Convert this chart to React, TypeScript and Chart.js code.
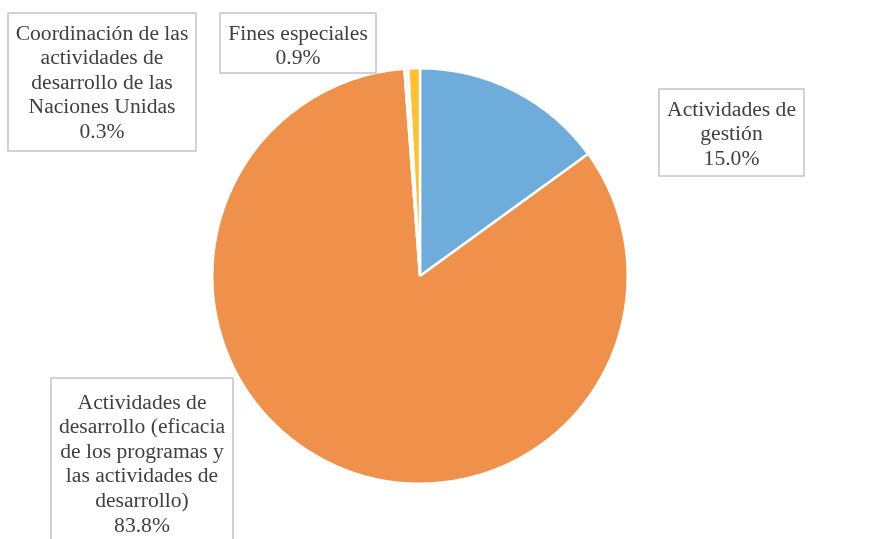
import React, { useEffect, useRef } from "react";
import { Chart, registerables } from "chart.js";

Chart.register(...registerables);

const categories = [
  "Actividades de gestión",
  "Actividades de desarrollo (eficacia de los programas y las actividades de desarrollo)",
  "Coordinación de las actividades de desarrollo de las Naciones Unidas",
  "Fines especiales",
];
const values = [15.0, 83.8, 0.3, 0.9];
const colors = ["#6EADDB", "#EF914B", "#F4F4F4", "#FDC12D"];

const labelLines = [
  ["Actividades de", "gestión", "15.0%"],
  ["Actividades de", "desarrollo (eficacia", "de los programas y", "las actividades de", "desarrollo)", "83.8%"],
  ["Coordinación de las", "actividades de", "desarrollo de las", "Naciones Unidas", "0.3%"],
  ["Fines especiales", "0.9%"],
];
// box: left, top, right, bottom, first line center y
const labelBoxes = [
  [659, 89, 804, 176, 110],
  [51, 378, 233, 560, 403],
  [8, 13, 196, 151, 34],
  [220, 13, 376, 73, 34],
];

const labelPlugin = {
  id: "boxLabels",
  afterDraw(chart: any) {
    const ctx = chart.ctx;
    ctx.save();
    ctx.font = '21.6px "Liberation Serif"';
    ctx.textAlign = "center";
    ctx.textBaseline = "middle";
    labelBoxes.forEach((b, i) => {
      const [l, t, r, btm, y0] = b;
      ctx.fillStyle = "#ffffff";
      ctx.fillRect(l, t, r - l, btm - t);
      ctx.strokeStyle = "#C4C4C4";
      ctx.lineWidth = 1.5;
      ctx.strokeRect(l, t, r - l, btm - t);
      ctx.fillStyle = "#404040";
      const cx = (l + r) / 2;
      labelLines[i].forEach((line, k) => {
        ctx.fillText(line, cx, y0 + k * 24.6);
      });
    });
    ctx.restore();
  },
};

export default function App() {
  const ref = useRef<HTMLCanvasElement>(null);
  useEffect(() => {
    document.body.style.margin = "0";
    const chart = new Chart(ref.current!, {
      type: "pie",
      data: {
        labels: categories,
        datasets: [
          {
            data: values,
            backgroundColor: colors,
            borderColor: "#ffffff",
            borderWidth: 2.5,
          },
        ],
      },
      options: {
        responsive: false,
        animation: false,
        layout: { padding: { top: 67, bottom: 54, left: 211, right: 258 } },
        plugins: { legend: { display: false }, tooltip: { enabled: false } },
      },
      plugins: [labelPlugin],
    });
    return () => chart.destroy();
  }, []);
  return (
    <div style={{ width: 887, height: 539, background: "#fff" }}>
      <canvas ref={ref} width={887} height={539} />
    </div>
  );
}
